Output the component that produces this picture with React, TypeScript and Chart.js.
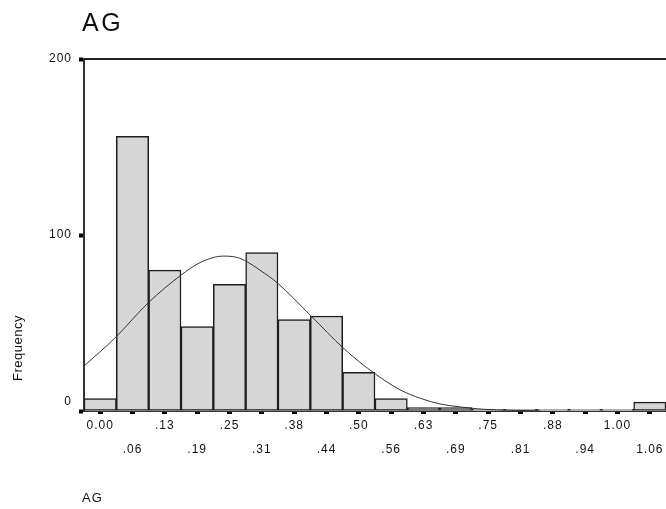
import React, { useEffect, useRef } from 'react';
import { Chart, registerables } from 'chart.js';

Chart.register(...registerables);

const TITLE = 'AG';
const X_TITLE = 'AG';
const Y_TITLE = 'Frequency';

// histogram bins (bin width .0625)
const binCenters = [0, 0.0625, 0.125, 0.1875, 0.25, 0.3125, 0.375, 0.4375, 0.5, 0.5625, 0.625, 0.6875, 0.75, 0.8125, 0.875, 0.9375, 1.0, 1.0625];
const binLabels = ['0.00', '.06', '.13', '.19', '.25', '.31', '.38', '.44', '.50', '.56', '.63', '.69', '.75', '.81', '.88', '.94', '1.00', '1.06'];
const frequencies = [7, 156, 80, 48, 72, 90, 52, 54, 22, 7, 2, 2, 1, 1, 1, 1, 1, 5];

// normal curve, points
const curveX = [-0.031, 0.03, 0.093, 0.155, 0.193, 0.238, 0.264, 0.284, 0.309, 0.342, 0.407, 0.472, 0.532, 0.58, 0.619, 0.657, 0.696, 0.74, 0.793, 0.85];
const curveY = [25.6, 41.9, 61.5, 76.9, 84.3, 88, 87.3, 84.8, 80, 72.9, 54.2, 35.2, 21, 12, 7.2, 4, 2.3, 1, 0.4, 0.1];

const yTicks = [0, 100, 200];
const X_MIN = -0.03125;
const X_MAX = 1.09375;
const Y_MIN = 0;
const Y_MAX = 200;

const FONT = '"Liberation Sans", Arial, Helvetica, sans-serif';

const decorPlugin = {
  id: 'decor',
  beforeDraw(chart: any) {
    chart.ctx.letterSpacing = '1px';
  },
  afterDraw(chart: any) {
    const { ctx, chartArea } = chart;
    ctx.save();
    ctx.letterSpacing = '0px';
    // top frame line
    ctx.strokeStyle = '#222';
    ctx.lineWidth = 2;
    ctx.beginPath();
    ctx.moveTo(chartArea.left, chartArea.top);
    ctx.lineTo(chartArea.right, chartArea.top);
    ctx.stroke();

    ctx.fillStyle = '#111';
    ctx.textBaseline = 'middle';
    ctx.textAlign = 'left';
    ctx.letterSpacing = '2.5px';
    ctx.font = `25px ${FONT}`;
    ctx.fillText(TITLE, 82, 24);

    ctx.letterSpacing = '1px';
    ctx.font = `13px ${FONT}`;
    ctx.fillText(X_TITLE, 82, 498);

    ctx.translate(18, 348);
    ctx.rotate(-Math.PI / 2);
    ctx.textAlign = 'center';
    ctx.letterSpacing = '0.5px';
    ctx.fillText(Y_TITLE, 0, 0);
    ctx.restore();
    ctx.letterSpacing = '0px';
  },
};

export default function App() {
  const ref = useRef<HTMLCanvasElement | null>(null);

  useEffect(() => {
    if (!ref.current) return;
    const chart = new Chart(ref.current, {
      type: 'bar',
      data: {
        datasets: [
          {
            type: 'line',
            data: curveX.map((x, i) => ({ x, y: curveY[i] })),
            borderColor: '#333',
            borderWidth: 1,
            pointRadius: 0,
            cubicInterpolationMode: 'monotone',
            fill: false,
            order: 0,
          } as any,
          {
            type: 'bar',
            data: binCenters.map((x, i) => ({ x, y: frequencies[i] })),
            backgroundColor: '#d6d6d6',
            borderColor: '#1e1e1e',
            borderWidth: 1.5,
            borderSkipped: false,
            barPercentage: 1,
            categoryPercentage: 1,
            order: 1,
          } as any,
        ],
      },
      options: {
        responsive: false,
        animation: false,
        events: [],
        layout: { padding: { top: 59, left: 0, right: 0, bottom: 0 } },
        plugins: {
          legend: { display: false },
          tooltip: { enabled: false },
          title: { display: false },
        },
        scales: {
          x: {
            type: 'linear',
            offset: false,
            min: X_MIN,
            max: X_MAX,
            afterBuildTicks: (s: any) => {
              s.ticks = binCenters.map((v) => ({ value: v }));
            },
            afterFit: (s: any) => {
              s.height = 98;
            },
            grid: {
              display: true,
              offset: false,
              drawOnChartArea: false,
              drawTicks: true,
              tickLength: 3,
              tickWidth: 5,
              tickColor: '#000',
              color: '#000',
            },
            border: { display: true, color: '#333', width: 1 },
            ticks: {
              autoSkip: false,
              maxRotation: 0,
              minRotation: 0,
              padding: 0,
              color: '#111',
              font: { family: FONT, size: 12, lineHeight: 1.97 },
              callback: (_v: any, i: number) => (i % 2 === 0 ? [binLabels[i], ''] : ['', binLabels[i]]),
            },
          },
          y: {
            type: 'linear',
            min: Y_MIN,
            max: Y_MAX,
            afterBuildTicks: (s: any) => {
              s.ticks = yTicks.map((v) => ({ value: v }));
            },
            afterFit: (s: any) => {
              s.width = 84;
            },
            grid: {
              display: true,
              drawOnChartArea: false,
              drawTicks: true,
              tickLength: 5,
              tickWidth: 4,
              tickColor: '#000',
              color: '#000',
            },
            border: { display: true, color: '#333', width: 2 },
            ticks: {
              padding: 7,
              color: '#111',
              font: { family: FONT, size: 12, lineHeight: 1.6 },
              callback: (v: any) => (v === 0 ? ['0', ''] : String(v)),
            },
          },
        },
      } as any,
      plugins: [decorPlugin],
    });
    return () => chart.destroy();
  }, []);

  return (
    <div style={{ position: 'fixed', left: 0, top: 0, width: 666, height: 509, background: '#fff' }}>
      <canvas ref={ref} width={666} height={509} style={{ display: 'block' }} />
    </div>
  );
}
